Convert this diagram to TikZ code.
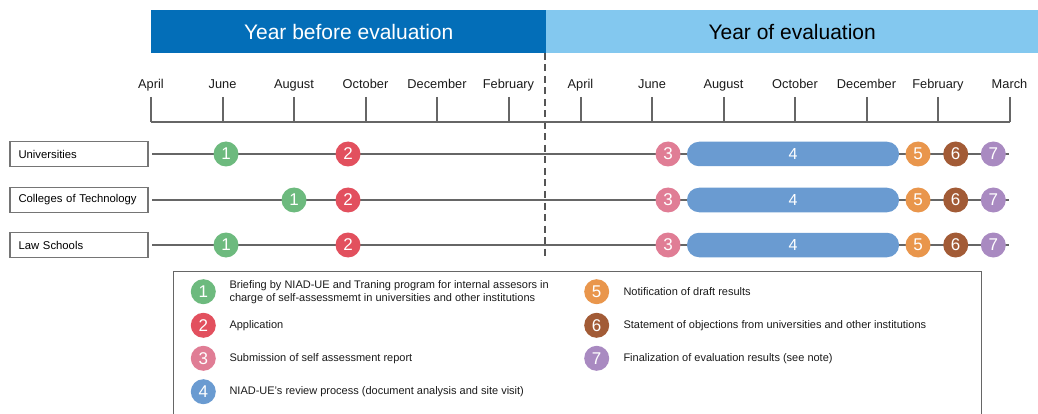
\documentclass[tikz,border=0pt]{standalone}
\usepackage{fontspec}
\setmainfont{Liberation Sans}
\definecolor{hdark}{HTML}{036EB8}
\definecolor{hlight}{HTML}{83C8EF}
\definecolor{cone}{HTML}{6DBA7E}
\definecolor{ctwo}{HTML}{E2505E}
\definecolor{cthree}{HTML}{E07D95}
\definecolor{cfour}{HTML}{6A9BD1}
\definecolor{cfive}{HTML}{E9964C}
\definecolor{csix}{HTML}{A25B36}
\definecolor{cseven}{HTML}{A98AC1}
\definecolor{linegray}{HTML}{666666}
\definecolor{dashgray}{HTML}{555555}
\definecolor{txt}{HTML}{1A1A1A}
\begin{document}
\begin{tikzpicture}[x=1pt,y=-1pt,
  hdr/.style={inner sep=0pt, anchor=north west, minimum height=43pt, font=\fontsize{21}{21}\selectfont},
  monthlbl/.style={text=txt, font=\fontsize{12.8}{13}\selectfont, inner sep=0pt, anchor=base},
  tickline/.style={draw=linegray, line width=2pt},
  axisline/.style={draw=linegray, line width=2.5pt},
  rowbox/.style={draw=linegray!90, line width=1.1pt, minimum height=25pt, text width=121pt, inner xsep=8.5pt, align=left, text=black, font=\fontsize{11.3}{12}\selectfont},
  rowline/.style={draw=linegray, line width=1.5pt},
  stepdot/.style={circle, fill=#1, minimum size=25pt, inner sep=0pt, text=white, font=\fontsize{17}{17}\selectfont},
  stepbar/.style={rectangle, rounded corners=12pt, fill=cfour, minimum width=212pt, minimum height=24.5pt, inner sep=0pt, text=white, font=\fontsize{16}{16}\selectfont},
  legtext/.style={anchor=west, align=left, text=txt, inner sep=0pt, font=\fontsize{11}{12.6}\selectfont},
  divider/.style={draw=dashgray, line width=2.8pt, dash pattern=on 7pt off 4.5pt}
]
\useasboundingbox (0,0) rectangle (1038,414);
% headers
\node[hdr, fill=hdark, text=white, minimum width=395pt] (hbefore) at (151,10) {Year before evaluation};
\node[hdr, fill=hlight, text=black, minimum width=492pt] (hof) at (546,10) {Year of evaluation};
% divider
\coordinate (dtop) at (545,53);
\coordinate (dbot) at (545,260);
\draw[divider] (dtop) -- (dbot);
% axis
\coordinate (axL) at (151,122);
\coordinate (axR) at (1009.5,122);
\draw[axisline] (axL) -- (axR);
\foreach \m [count=\i from 0] in {April,June,August,October,December,February} {
  \coordinate (tab\i) at ({151+71.5*\i},122);
  \coordinate (ttb\i) at ({151+71.5*\i},97);
  \draw[tickline] (ttb\i) -- (tab\i);
  \node[monthlbl] (mb\i) at ({151+71.5*\i},88.5) {\m};
}
\foreach \m [count=\i from 0] in {April,June,August,October,December,February,March} {
  \coordinate (tae\i) at ({580.5+71.5*\i},122);
  \coordinate (tte\i) at ({580.5+71.5*\i},97);
  \draw[tickline] (tte\i) -- (tae\i);
  \node[monthlbl] (me\i) at ({580.5+71.5*\i},88.5) {\m};
}
% rows
\node[rowbox] (r1) at (79,154) {Universities};
\node[rowbox] (r2) at (79,200) {Colleges of Technology};
\node[rowbox] (r3) at (79,245) {Law Schools};
\coordinate (e1) at (1009,154);
\coordinate (e2) at (1009,200);
\coordinate (e3) at (1009,245);
\draw[rowline] ([xshift=3.5pt]r1.east) -- (e1);
\draw[rowline] ([xshift=3.5pt]r2.east) -- (e2);
\draw[rowline] ([xshift=3.5pt]r3.east) -- (e3);
% row 1
\node[stepdot=cone] (a1) at (226,154) {1};
\node[stepdot=ctwo] (a2) at (348,154) {2};
\node[stepdot=cthree] (a3) at (668,154) {3};
\node[stepbar] (a4) at (793,154) {4};
\node[stepdot=cfive] (a5) at (918,154) {5};
\node[stepdot=csix] (a6) at (955.7,154) {6};
\node[stepdot=cseven] (a7) at (993.3,154) {7};
% row 2
\node[stepdot=cone] (b1) at (294,200) {1};
\node[stepdot=ctwo] (b2) at (348,200) {2};
\node[stepdot=cthree] (b3) at (668,200) {3};
\node[stepbar] (b4) at (793,200) {4};
\node[stepdot=cfive] (b5) at (918,200) {5};
\node[stepdot=csix] (b6) at (955.7,200) {6};
\node[stepdot=cseven] (b7) at (993.3,200) {7};
% row 3
\node[stepdot=cone] (c1) at (226,245) {1};
\node[stepdot=ctwo] (c2) at (348,245) {2};
\node[stepdot=cthree] (c3) at (668,245) {3};
\node[stepbar] (c4) at (793,245) {4};
\node[stepdot=cfive] (c5) at (918,245) {5};
\node[stepdot=csix] (c6) at (955.7,245) {6};
\node[stepdot=cseven] (c7) at (993.3,245) {7};
% legend
\node[draw=linegray, line width=1.2pt, anchor=north west, minimum width=808pt, minimum height=160pt, inner sep=0pt] (legend) at (173,271) {};
\node[stepdot=cone] (l1) at (203.3,291.7) {1};
\node[stepdot=ctwo] (l2) at (203.3,325.3) {2};
\node[stepdot=cthree] (l3) at (203.3,358.3) {3};
\node[stepdot=cfour] (l4) at (203.3,391.7) {4};
\node[stepdot=cfive] (l5) at (596.7,291.7) {5};
\node[stepdot=csix] (l6) at (596.7,325.3) {6};
\node[stepdot=cseven] (l7) at (596.7,358.3) {7};
\node[legtext] (t1) at (229.3,292) {Briefing by NIAD-UE and Traning program for internal assesors in\\charge of self-assessmemt in universities and other institutions};
\node[legtext] (t2) at (229.3,325.3) {Application};
\node[legtext] (t3) at (229.3,358.3) {Submission of self assessment report};
\node[legtext] (t4) at (229.3,391.7) {NIAD-UE’s review process (document analysis and site visit)};
\node[legtext] (t5) at (623.3,291.7) {Notification of draft results};
\node[legtext] (t6) at (623.3,325.3) {Statement of objections from universities and other institutions};
\node[legtext] (t7) at (623.3,358.3) {Finalization of evaluation results (see note)};
\end{tikzpicture}
\end{document}
